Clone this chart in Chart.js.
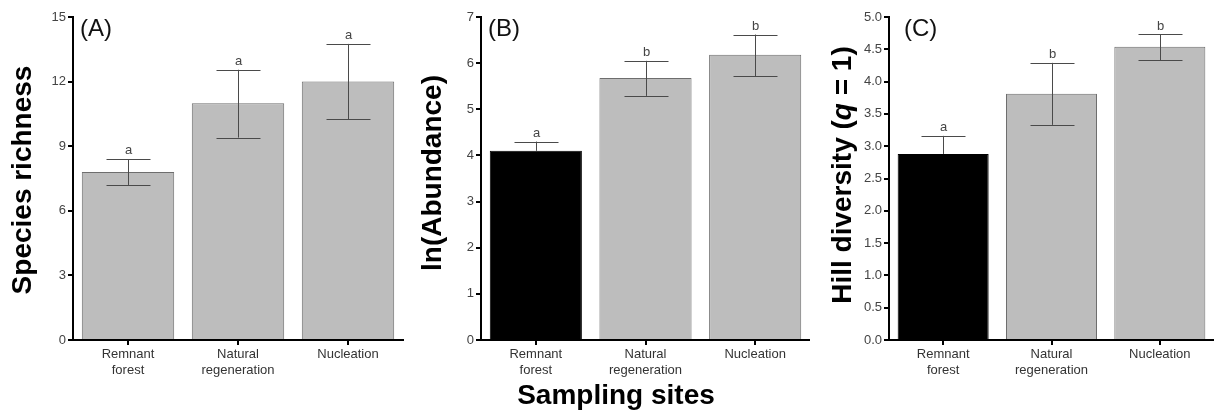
<!DOCTYPE html>
<html>
<head>
<meta charset="utf-8">
<script src="https://cdn.jsdelivr.net/npm/chart.js@4"></script>
<style>
  html, body { margin: 0; padding: 0; background: #fff; }
  #wrap { position: relative; width: 1214px; height: 414px; overflow: hidden; }
  .panel { position: absolute; top: 0; height: 414px; }
</style>
</head>
<body>
<div id="wrap">
  <div class="panel" style="left:0;width:405px"><canvas id="chartA"></canvas></div>
  <div class="panel" style="left:405px;width:405px"><canvas id="chartB"></canvas></div>
  <div class="panel" style="left:810px;width:404px"><canvas id="chartC"></canvas></div>
</div>
<script>
  var sites = [['Remnant', 'forest'], ['Natural', 'regeneration'], 'Nucleation'];

  // (A) species richness
  var richness = [7.8, 11.0, 12.0];
  var richnessLow = [7.2, 9.4, 10.25];
  var richnessHigh = [8.4, 12.55, 13.75];
  var richnessLetters = ['a', 'a', 'a'];

  // (B) ln(abundance)  - lower whisker of remnant forest hidden by the black bar
  var abundance = [4.1, 5.68, 6.18];
  var abundanceLow = [null, 5.29, 5.72];
  var abundanceHigh = [4.3, 6.05, 6.62];
  var abundanceLetters = ['a', 'b', 'b'];

  // (C) Hill diversity q=1
  var hill = [2.88, 3.81, 4.54];
  var hillLow = [null, 3.33, 4.33];
  var hillHigh = [3.16, 4.29, 4.73];
  var hillLetters = ['a', 'b', 'b'];

  var FONT = "'Liberation Sans', Arial, sans-serif";
  var GREY = '#bdbdbd';

  var errorBars = {
    id: 'errorBars',
    afterDatasetsDraw: function (chart, args, o) {
      var ctx = chart.ctx;
      var meta = chart.getDatasetMeta(0);
      var y = chart.scales.y;
      ctx.save();
      ctx.strokeStyle = '#4a4a4a';
      ctx.lineWidth = 1;
      meta.data.forEach(function (bar, i) {
        var x = Math.round(bar.x) + 0.5;
        var top = y.getPixelForValue(o.high[i]);
        var bottom = o.low[i] == null ? bar.y : y.getPixelForValue(o.low[i]);
        ctx.beginPath();
        ctx.moveTo(x, bottom);
        ctx.lineTo(x, top);
        ctx.moveTo(x - 22, Math.round(top) + 0.5);
        ctx.lineTo(x + 22, Math.round(top) + 0.5);
        if (o.low[i] != null) {
          ctx.moveTo(x - 22, Math.round(bottom) + 0.5);
          ctx.lineTo(x + 22, Math.round(bottom) + 0.5);
        }
        ctx.stroke();
        ctx.fillStyle = '#444';
        ctx.font = '13px ' + FONT;
        ctx.textAlign = 'center';
        ctx.textBaseline = 'bottom';
        ctx.fillText(o.letters[i], x, top - 2);
      });
      ctx.restore();
    }
  };

  var extraText = {
    id: 'extraText',
    afterDraw: function (chart, args, o) {
      var ctx = chart.ctx;
      ctx.save();
      // panel tag
      ctx.fillStyle = '#111';
      ctx.font = '24px ' + FONT;
      ctx.textAlign = 'left';
      ctx.textBaseline = 'middle';
      ctx.fillText(o.tag, o.tagX, 29);
      // rotated y title, made of plain / italic parts
      ctx.translate(o.titleX, o.titleY);
      ctx.rotate(-Math.PI / 2);
      ctx.fillStyle = '#000';
      ctx.textBaseline = 'middle';
      var total = 0;
      o.title.forEach(function (p) {
        ctx.font = (p.italic ? 'italic ' : '') + 'bold 28px ' + FONT;
        total += ctx.measureText(p.text).width;
      });
      var pos = -total / 2;
      o.title.forEach(function (p) {
        ctx.font = (p.italic ? 'italic ' : '') + 'bold 28px ' + FONT;
        ctx.textAlign = 'left';
        ctx.fillText(p.text, pos, 0);
        pos += ctx.measureText(p.text).width;
      });
      ctx.restore();
      if (o.xTitle) {
        ctx.save();
        ctx.fillStyle = '#000';
        ctx.font = 'bold 28px ' + FONT;
        ctx.textAlign = 'center';
        ctx.textBaseline = 'middle';
        ctx.fillText(o.xTitle, o.xTitleX, 396);
        ctx.restore();
      }
    }
  };

  function makeChart(id, values, colors, yMax, yStep, yDecimals, yWidth, rightPad, bars, text) {
    var ctx = document.getElementById(id).getContext('2d');
    return new Chart(ctx, {
      type: 'bar',
      data: {
        labels: sites,
        datasets: [{
          data: values,
          backgroundColor: colors,
          borderColor: colors.map(function (c) { return c === '#000000' ? '#000000' : '#6e6e6e'; }),
          borderWidth: 1,
          barPercentage: 0.84,
          categoryPercentage: 1
        }]
      },
      options: {
        responsive: true,
        maintainAspectRatio: false,
        animation: false,
        layout: { padding: { top: 17, left: 0, right: rightPad, bottom: 0 } },
        scales: {
          x: {
            afterFit: function (s) { s.height = 74; },
            grid: { drawOnChartArea: false, drawTicks: true, tickLength: 5, color: '#000', offset: false, lineWidth: 2 },
            border: { color: '#000', width: 2 },
            ticks: { color: '#333', font: { family: FONT, size: 13 }, padding: 2, maxRotation: 0 }
          },
          y: {
            min: 0,
            max: yMax,
            afterFit: function (s) { s.width = yWidth; },
            grid: { drawOnChartArea: false, drawTicks: true, tickLength: 5, color: '#000', lineWidth: 2 },
            border: { color: '#000', width: 2 },
            ticks: {
              stepSize: yStep,
              color: '#444',
              padding: 2,
              font: { family: FONT, size: 13 },
              callback: function (v) { return v.toFixed(yDecimals); }
            }
          }
        },
        plugins: {
          legend: { display: false },
          tooltip: { enabled: false },
          errorBars: bars,
          extraText: text
        }
      },
      plugins: [errorBars, extraText]
    });
  }

  makeChart('chartA', richness, [GREY, GREY, GREY], 15, 3, 0, 73, 2,
    { low: richnessLow, high: richnessHigh, letters: richnessLetters },
    { tag: '(A)', tagX: 80, titleX: 23, titleY: 180, title: [{ text: 'Species richness' }] });

  makeChart('chartB', abundance, ['#000000', GREY, GREY], 7, 1, 0, 76, 0,
    { low: abundanceLow, high: abundanceHigh, letters: abundanceLetters },
    { tag: '(B)', tagX: 83, titleX: 28, titleY: 173, title: [{ text: 'ln(Abundance)' }],
      xTitle: 'Sampling sites', xTitleX: 211 });

  makeChart('chartC', hill, ['#000000', GREY, GREY], 5, 0.5, 1, 79, 0,
    { low: hillLow, high: hillHigh, letters: hillLetters },
    { tag: '(C)', tagX: 94, titleX: 33, titleY: 175,
      title: [{ text: 'Hill diversity (' }, { text: 'q', italic: true }, { text: ' = 1)' }] });
</script>
</body>
</html>
